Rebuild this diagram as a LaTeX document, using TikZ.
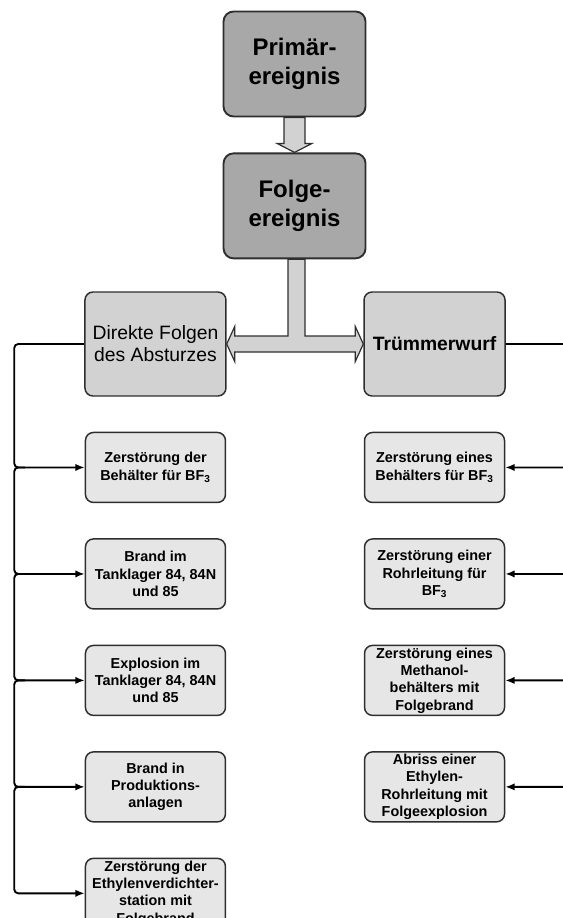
\documentclass[tikz,border=0pt]{standalone}
\usepackage{fontspec}
\setmainfont{Liberation Sans}
\usetikzlibrary{arrows.meta,positioning,calc,backgrounds}

\definecolor{edgegray}{HTML}{2E2E2E}
\definecolor{topgray}{HTML}{A8A8A8}
\definecolor{midgray}{HTML}{D2D2D2}
\definecolor{leafgray}{HTML}{E6E6E6}

\begin{document}
\begin{tikzpicture}[
    x=1pt, y=1pt,
    >={Latex[length=7pt,width=5.5pt]},
    event/.style={draw=edgegray, fill=topgray, rounded corners=7.5pt, line width=1.4pt, minimum width=106.5pt, minimum height=78.75pt, inner sep=0pt, align=center, font=\bfseries\fontsize{18}{21.75}\selectfont},
    branch/.style={draw=edgegray, fill=midgray, rounded corners=6pt, line width=1.1pt, minimum width=105.75pt, minimum height=78pt, inner sep=0pt, align=center, font=\fontsize{14.5}{16.5}\selectfont},
    leaf/.style={draw=edgegray, fill=leafgray, rounded corners=6pt, line width=1.1pt, minimum width=105pt, minimum height=52.5pt, inner sep=0pt, align=center, font=\bfseries\fontsize{10.8}{13}\selectfont},
    bigarrow/.style={draw=edgegray, fill=midgray, line width=0.9pt, line join=miter},
    connector/.style={->, line width=1.4pt, rounded corners=3pt}
]

    \useasboundingbox (0,0) rectangle (422.25,-688.5);
    \clip (0,0) rectangle (422.25,-688.5);

    \node [event] (prim) at (220.9,-48) {Primär-\\ereignis};
    \node [event, below=26.25pt of prim] (folge) {Folge-\\ereignis};

    \node [branch] (direkte) at (116.6,-258) {Direkte Folgen\\des Absturzes};
    \node [branch, font=\bfseries\fontsize{14.5}{16.5}\selectfont] (truemmer) at (325.9,-258) {Trümmerwurf};


    \node [leaf, below=26.25pt of direkte] (l1) {Zerstörung der\\Behälter für BF\textsubscript{3}};
    \node [leaf, below=26.25pt of l1] (l2) {Brand im\\Tanklager 84, 84N\\und 85};
    \node [leaf, below=26.25pt of l2] (l3) {Explosion im\\Tanklager 84, 84N\\und 85};
    \node [leaf, below=26.25pt of l3] (l4) {Brand in\\Produktions-\\anlagen};
    \node [leaf, below=26.25pt of l4] (l5) {Zerstörung der\\Ethylenverdichter-\\station mit\\Folgebrand};


    \node [leaf, below=26.25pt of truemmer] (r1) {Zerstörung eines\\Behälters für BF\textsubscript{3}};
    \node [leaf, below=26.25pt of r1] (r2) {Zerstörung einer\\Rohrleitung für\\BF\textsubscript{3}};
    \node [leaf, below=26.25pt of r2] (r3) {Zerstörung eines\\Methanol-\\behälters mit\\Folgebrand};
    \node [leaf, below=26.25pt of r3] (r4) {Abriss einer\\Ethylen-\\Rohrleitung mit\\Folgeexplosion};


    \begin{scope}[on background layer]
    \draw [bigarrow] ($(prim.south)+(-7.9,0)$) -- ($(folge.north)+(-7.9,6.75)$) -- ($(folge.north)+(-13.1,6.75)$) -- (folge.north)
        -- ($(folge.north)+(13.1,6.75)$) -- ($(folge.north)+(7.9,6.75)$) -- ($(prim.south)+(7.9,0)$) -- cycle;

    \coordinate (tj) at ($(folge.south |- direkte.east)+(1.5,0)$);
    \draw [bigarrow] ($(folge.south)+(-4.9,0)$) -- ($(tj)+(-6.4,6)$) -- ($(direkte.east)+(6,6)$) -- ($(direkte.east)+(6,13.1)$)
        -- (direkte.east) -- ($(direkte.east)+(6,-13.1)$) -- ($(direkte.east)+(6,-6)$) -- ($(truemmer.west)+(-6,-6)$)
        -- ($(truemmer.west)+(-6,-13.1)$) -- (truemmer.west) -- ($(truemmer.west)+(-6,13.1)$) -- ($(truemmer.west)+(-6,6)$)
        -- ($(tj)+(6.4,6)$) -- ($(folge.south)+(7.9,0)$) -- cycle;
    \end{scope}


    \coordinate (lbus) at ($(direkte.west)+(-52.5,0)$);
    \coordinate (rbus) at ($(truemmer.east)+(52.5,0)$);

    \draw [connector] (direkte.west) -| (lbus |- l1.west) -- (l1.west);
    \foreach \a/\b in {l1/l2, l2/l3, l3/l4, l4/l5}
        \draw [connector] ($(lbus |- \a.west)+(8,0)$) -| (lbus |- \b.west) -- (\b.west);

    \draw [connector] (truemmer.east) -| (rbus |- r1.east) -- (r1.east);
    \foreach \a/\b in {r1/r2, r2/r3, r3/r4}
        \draw [connector] ($(rbus |- \a.east)+(-8,0)$) -| (rbus |- \b.east) -- (\b.east);

\end{tikzpicture}
\end{document}
